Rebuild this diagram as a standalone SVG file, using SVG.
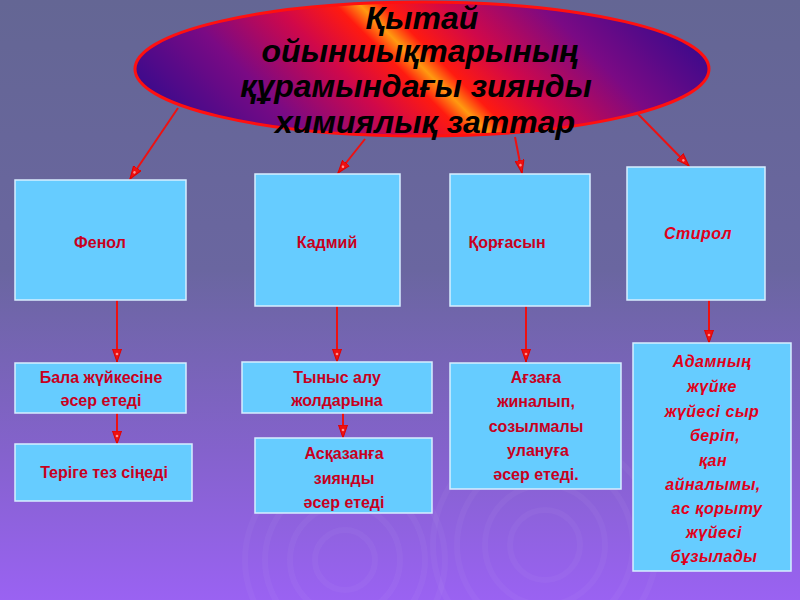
<svg xmlns="http://www.w3.org/2000/svg" width="800" height="600" viewBox="0 0 800 600">
<defs>
<linearGradient id="bg" x1="0" y1="0" x2="0" y2="1">
<stop offset="0" stop-color="#646694"/>
<stop offset="0.45" stop-color="#6a66a0"/>
<stop offset="0.75" stop-color="#8462cc"/>
<stop offset="1" stop-color="#9a62f2"/>
</linearGradient>
<linearGradient id="ell" gradientUnits="userSpaceOnUse" x1="270" y1="220" x2="575" y2="-85">
<stop offset="0" stop-color="#3a0a8c"/>
<stop offset="0.2" stop-color="#7a0a84"/>
<stop offset="0.36" stop-color="#d0084a"/>
<stop offset="0.46" stop-color="#ff1a10"/>
<stop offset="0.5" stop-color="#ff9a10"/>
<stop offset="0.54" stop-color="#ff1a10"/>
<stop offset="0.64" stop-color="#d0084a"/>
<stop offset="0.8" stop-color="#7a0a84"/>
<stop offset="1" stop-color="#3a0a8c"/>
</linearGradient>
<marker id="ah" viewBox="0 0 14 10" refX="13" refY="5" markerWidth="14" markerHeight="10" orient="auto" markerUnits="userSpaceOnUse">
<path d="M0,0.5 L13,5 L0,9.5 z" fill="#ee1111" stroke="#e00000" stroke-width="1"/>
<circle cx="5" cy="5" r="1.3" fill="#ff9090"/>
</marker>
<style>
.box{fill:#66ccff;stroke:#d8eeff;stroke-width:1.5}
.t{font-family:"Liberation Sans",Arial,sans-serif;font-weight:bold;font-size:16px;fill:#c8001e;text-anchor:middle}
.ti{font-style:italic;fill:#e0001a;letter-spacing:0.5px}
.c{fill:none;stroke:#ffffff;stroke-opacity:0.035;stroke-width:6}
.conn line{stroke:#ee1111;stroke-width:2;marker-end:url(#ah)}
.title{font-family:"Liberation Sans",Arial,sans-serif;font-weight:bold;font-style:italic;font-size:32px;fill:#000;text-anchor:middle}
</style>
</defs>
<rect x="0" y="0" width="800" height="600" fill="url(#bg)"/>
<g id="swirls">
<circle class="c" cx="345" cy="560" r="30"/>
<circle class="c" cx="345" cy="560" r="55"/>
<circle class="c" cx="345" cy="560" r="80"/>
<circle class="c" cx="345" cy="560" r="100"/>
<circle class="c" cx="545" cy="545" r="35"/>
<circle class="c" cx="545" cy="545" r="60"/>
<circle class="c" cx="545" cy="545" r="88"/>
<circle class="c" cx="545" cy="545" r="112"/>
</g>
<g id="connectors" class="conn">
<line x1="178" y1="108" x2="130" y2="179"/>
<line x1="365" y1="139" x2="338" y2="173"/>
<line x1="515" y1="137" x2="522" y2="173"/>
<line x1="638" y1="114" x2="689" y2="166"/>
<line x1="117" y1="300" x2="117" y2="362"/>
<line x1="117" y1="413" x2="117" y2="444"/>
<line x1="337" y1="306" x2="337" y2="362"/>
<line x1="343" y1="413" x2="343" y2="438"/>
<line x1="526" y1="306" x2="526" y2="362"/>
<line x1="709" y1="300" x2="709" y2="343"/>
</g>
<g id="title">
<ellipse cx="422" cy="69" rx="287" ry="67" fill="url(#ell)" stroke="#ff1010" stroke-width="3"/>
<text class="title" x="422" y="29">Қытай</text>
<text class="title" x="420" y="62">ойыншықтарының</text>
<text class="title" x="416" y="97">құрамындағы зиянды</text>
<text class="title" x="425" y="133">химиялық заттар</text>
</g>
<g id="fenol">
<rect class="box" x="15" y="180" width="171" height="120"/>
<text class="t" x="100" y="248">Фенол</text>
</g>
<g id="kadmii">
<rect class="box" x="255" y="174" width="145" height="132"/>
<text class="t" x="327" y="248">Кадмий</text>
</g>
<g id="korgasyn">
<rect class="box" x="450" y="174" width="140" height="132"/>
<text class="t" x="507" y="248">Қорғасын</text>
</g>
<g id="stirol">
<rect class="box" x="627" y="167" width="138" height="133"/>
<text class="t ti" x="698" y="239">Стирол</text>
</g>
<g id="bala">
<rect class="box" x="15" y="363" width="171" height="50"/>
<text class="t" x="101" y="383">Бала жүйкесіне</text>
<text class="t" x="101" y="406">әсер етеді</text>
</g>
<g id="terige">
<rect class="box" x="15" y="444" width="177" height="57"/>
<text class="t" x="104" y="478">Теріге тез сіңеді</text>
</g>
<g id="tynys">
<rect class="box" x="242" y="362" width="190" height="51"/>
<text class="t" x="337" y="383">Тыныс алу</text>
<text class="t" x="337" y="406">жолдарына</text>
</g>
<g id="askazan">
<rect class="box" x="255" y="438" width="177" height="75"/>
<text class="t" x="344" y="459">Асқазанға</text>
<text class="t" x="344" y="484">зиянды</text>
<text class="t" x="344" y="508">әсер етеді</text>
</g>
<g id="agza">
<rect class="box" x="450" y="363" width="171" height="126"/>
<text class="t" x="536" y="383">Ағзаға</text>
<text class="t" x="536" y="407">жиналып,</text>
<text class="t" x="536" y="432">созылмалы</text>
<text class="t" x="538" y="456">улануға</text>
<text class="t" x="536" y="480">әсер етеді.</text>
</g>
<g id="adam">
<rect class="box" x="633" y="343" width="158" height="228"/>
<text class="t ti" x="712" y="367">Адамның</text>
<text class="t ti" x="712" y="392">жүйке</text>
<text class="t ti" x="712" y="417">жүйесі сыр</text>
<text class="t ti" x="715" y="441">беріп,</text>
<text class="t ti" x="713" y="466">қан</text>
<text class="t ti" x="713" y="490">айналымы,</text>
<text class="t ti" x="717" y="514">ас қорыту</text>
<text class="t ti" x="714" y="538">жүйесі</text>
<text class="t ti" x="714" y="562">бұзылады</text>
</g>
</svg>
